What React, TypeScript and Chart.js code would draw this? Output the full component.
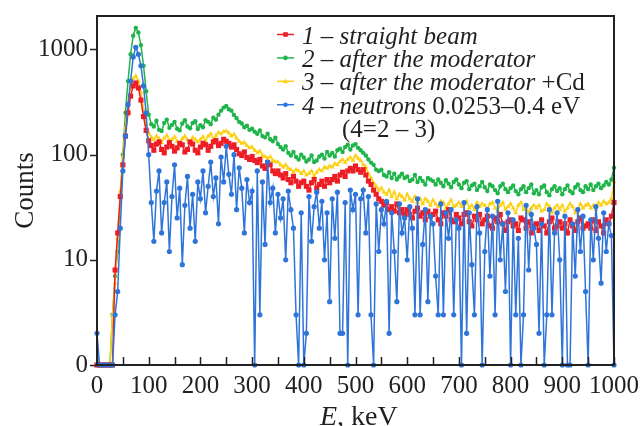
import React, { useEffect, useRef } from "react";
import { Chart, registerables } from "chart.js";

Chart.register(...registerables);

const SERIF = '"Liberation Serif", "Times New Roman", Times, serif';
const TEXT_COLOR = "#231f20";
const RED = "#ee1c24";
const GREEN = "#1fb54a";
const YELLOW = "#fcd116";
const BLUE = "#2f74d9";

// channel width (keV) of the spectra, channels start at 0 keV
const CHANNEL_KEV = 5;

const xTickValues = [0, 100, 200, 300, 400, 500, 600, 700, 800, 900, 1000];
const xMinorTickValues = [0, 50, 100, 150, 200, 250, 300, 350, 400, 450, 500, 550, 600, 650, 700, 750, 800, 850, 900, 950, 1000];
const yTickValues = [1, 10, 100, 1000];
const yTickLabels = ["0", "10", "100", "1000"];

// 1 – straight beam
const straightBeam = [
  0, 0, 0, 0, 0, 0, 0, 8, 18, 40,
  80, 150, 250, 360, 450, 480, 430, 330, 230, 170,
  135, 122, 110, 126, 132, 112, 104, 118, 130, 120,
  108, 116, 128, 124, 106, 112, 132, 126, 110, 104,
  118, 128, 124, 110, 120, 132, 136, 122, 128, 140,
  134, 128, 118, 124, 112, 102, 98, 106, 94, 90,
  96, 88, 84, 90, 78, 74, 84, 80, 70, 66,
  70, 64, 60, 66, 58, 54, 62, 56, 50, 54,
  56, 50, 46, 54, 58, 48, 52, 56, 50, 58,
  54, 58, 62, 56, 64, 68, 62, 70, 74, 70,
  78, 72, 68, 72, 64, 56, 52, 46, 42, 38,
  36, 33, 35, 30, 32, 29, 34, 28, 30, 27,
  30, 27, 25, 29, 31, 26, 28, 24, 29, 26,
  27, 29, 24, 22, 28, 26, 30, 24, 23, 27,
  25, 22, 27, 28, 23, 21, 26, 24, 27, 22,
  24, 26, 21, 20, 25, 23, 27, 22, 19, 23,
  24, 21, 22, 19, 25, 24, 20, 23, 18, 21,
  22, 19, 24, 21, 18, 23, 25, 20, 21, 23,
  20, 22, 18, 24, 21, 19, 23, 25, 20, 21,
  22, 20, 24, 19, 23, 21, 18, 24, 22, 26,
  35,
];

// 2 – after the moderator
const afterModerator = [
  0, 0, 0, 0, 0, 0, 3, 7, 12, 40,
  100, 250, 500, 900, 1350, 1600, 1450, 1100, 700, 400,
  240, 195, 185, 210, 172, 168, 200, 215, 180, 192,
  205, 176, 170, 198, 212, 185, 178, 200, 208, 175,
  190, 182, 212, 205, 195, 225, 215, 240, 262, 280,
  290, 270, 262, 238, 222, 205, 198, 182, 188, 172,
  176, 165, 158, 170, 150, 146, 158, 140, 134, 145,
  126, 118, 112, 120, 104, 98, 106, 95, 90, 100,
  94, 86, 90, 98, 85, 88, 96, 100, 92, 106,
  98, 104, 96, 110, 114, 106, 118, 124, 112, 122,
  126, 116, 110, 104, 98, 90, 84, 80, 72, 70,
  72, 64, 62, 68, 60, 66, 58, 62, 66, 60,
  62, 56, 58, 64, 55, 60, 56, 52, 60, 58,
  56, 52, 58, 54, 50, 57, 53, 49, 55, 58,
  52, 48, 54, 56, 47, 51, 53, 46, 50, 55,
  49, 45, 52, 50, 46, 43, 50, 53, 47, 44,
  48, 51, 45, 42, 47, 50, 44, 48, 52, 43,
  46, 42, 49, 51, 44, 41, 47, 50, 45, 48,
  42, 47, 51, 45, 43, 49, 52, 46, 44, 50,
  47, 52, 46, 50, 53, 48, 51, 55, 52, 58,
  75,
];

// 3 – after the moderator + Cd
const afterModeratorCd = [
  0, 0, 0, 0, 0, 0, 3, 6, 16, 45,
  95, 180, 300, 430, 530, 560, 500, 390, 270, 195,
  160, 146, 138, 150, 142, 130, 144, 152, 136, 140,
  148, 134, 128, 142, 150, 138, 130, 145, 140, 132,
  140, 148, 134, 150, 158, 140, 152, 162, 158, 166,
  168, 160, 150, 156, 144, 134, 128, 130, 122, 116,
  118, 110, 104, 108, 98, 96, 92, 96, 88, 86,
  85, 80, 76, 80, 74, 72, 68, 72, 70, 66,
  70, 64, 66, 70, 62, 68, 72, 70, 76, 74,
  78, 76, 82, 80, 86, 90, 84, 90, 94, 88,
  98, 92, 88, 80, 76, 66, 60, 54, 50, 46,
  48, 44, 42, 46, 40, 44, 38, 42, 40, 37,
  42, 38, 36, 40, 35, 38, 34, 38, 36, 33,
  37, 34, 32, 36, 35, 31, 34, 37, 32, 33,
  35, 32, 34, 36, 31, 33, 30, 35, 32, 34,
  33, 30, 34, 35, 31, 29, 33, 35, 30, 32,
  34, 31, 28, 33, 35, 30, 32, 28, 31, 33,
  31, 33, 29, 30, 34, 32, 28, 31, 33, 30,
  33, 29, 31, 34, 32, 28, 30, 34, 31, 33,
  34, 31, 33, 30, 35, 33, 36, 34, 35, 38,
  55,
];

// 4 – neutrons 0.0253–0.4 eV (4 = 2 – 3)
const thermalNeutrons = [
  2, 0, 0, 0, 0, 0, 0, 3, 5, 20,
  70, 150, 300, 500, 850, 1050, 900, 700, 450, 250,
  100, 35, 15, 45, 70, 18, 35, 55, 12, 40,
  80, 25, 48, 9, 33, 62, 20, 42, 15, 55,
  38, 70, 28, 50, 85, 40, 60, 22, 95, 55,
  120, 65, 42, 100, 30, 75, 48, 18, 58, 35,
  45, 0, 70, 3, 55, 14, 85, 35, 48, 18,
  42, 25, 38, 10, 45, 30, 20, 3, 0, 28,
  0, 2, 40, 15, 32, 44, 20, 36, 10, 28,
  4, 38, 16, 44, 2, 2, 35, 0, 46, 30,
  42, 3, 38, 46, 18, 40, 3, 0, 34, 12,
  30, 22, 36, 2, 28, 12, 4, 34, 18, 25,
  10, 32, 20, 3, 38, 3, 14, 30, 4, 26,
  22, 7, 3, 34, 3, 28, 16, 30, 3, 24,
  20, 0, 35, 2, 28, 9, 3, 32, 18, 0,
  12, 30, 7, 26, 3, 36, 10, 22, 5, 28,
  0, 24, 3, 16, 0, 3, 33, 8, 27, 20,
  14, 2, 22, 0, 3, 30, 3, 18, 28, 10,
  0, 26, 0, 0, 22, 7, 30, 12, 26, 5,
  0, 24, 10, 32, 16, 6, 28, 12, 22, 17,
  0,
];

type Part = { t: string; italic: boolean };
type Row = { color: string | null; style: string; parts: Part[]; indent?: number };

const legendRows: Row[] = [
  { color: RED, style: "rect", parts: [{ t: "1 – straight beam", italic: true }] },
  { color: GREEN, style: "circle", parts: [{ t: "2 – after the moderator", italic: true }] },
  { color: YELLOW, style: "triangle", parts: [{ t: "3 – after the moderator", italic: true }, { t: " +Cd", italic: false }] },
  { color: BLUE, style: "circle", parts: [{ t: "4 – neutrons", italic: true }, { t: " 0.0253–0.4 eV", italic: false }] },
  { color: null, style: "none", parts: [{ t: "(4=2 – 3)", italic: false }], indent: 40 },
];

// zero counts sit on the bottom line of the log axis (labelled "0")
const toPoints = (arr: number[]) => arr.map((v, i) => ({ x: i * CHANNEL_KEV, y: Math.max(v, 1) }));

const drawMarker = (ctx: CanvasRenderingContext2D, style: string, x: number, y: number, r: number) => {
  ctx.beginPath();
  if (style === "rect") {
    ctx.rect(x - r, y - r, 2 * r, 2 * r);
  } else if (style === "triangle") {
    ctx.moveTo(x, y - r * 1.2);
    ctx.lineTo(x + r * 1.1, y + r * 0.8);
    ctx.lineTo(x - r * 1.1, y + r * 0.8);
    ctx.closePath();
  } else {
    ctx.arc(x, y, r, 0, Math.PI * 2);
  }
  ctx.fill();
};

const decorPlugin = {
  id: "decor",
  afterDraw(chart: any) {
    const { ctx, chartArea: a, scales } = chart;
    const xs = scales.x;
    const ys = scales.y;
    ctx.save();
    // frame
    ctx.strokeStyle = "#222";
    ctx.lineWidth = 2;
    ctx.strokeRect(a.left, a.top, a.right - a.left, a.bottom - a.top);
    // tick marks
    ctx.lineWidth = 1.5;
    ctx.beginPath();
    for (const v of xMinorTickValues) {
      const px = Math.round(xs.getPixelForValue(v)) + 0.5;
      ctx.moveTo(px, a.bottom);
      ctx.lineTo(px, a.bottom - 8);
    }
    for (const v of yTickValues) {
      const py = Math.round(ys.getPixelForValue(v)) + 0.5;
      ctx.moveTo(a.left, py);
      ctx.lineTo(a.left - 7, py);
    }
    ctx.stroke();

    // legend
    const fs = 25;
    const textX = 302;
    ctx.fillStyle = TEXT_COLOR;
    ctx.textBaseline = "alphabetic";
    ctx.textAlign = "left";
    legendRows.forEach((row, i) => {
      const base = 43.5 + i * 23.4;
      let x = textX + (row.indent || 0);
      if (row.color) {
        const my = base - 9;
        ctx.strokeStyle = row.color;
        ctx.fillStyle = row.color;
        ctx.lineWidth = 1.5;
        ctx.beginPath();
        ctx.moveTo(277, my);
        ctx.lineTo(294, my);
        ctx.stroke();
        drawMarker(ctx, row.style, 285.5, my, 2.3);
      }
      ctx.fillStyle = TEXT_COLOR;
      for (const p of row.parts) {
        ctx.font = `${p.italic ? "italic " : ""}${fs}px ${SERIF}`;
        ctx.fillText(p.t, x, base);
        x += ctx.measureText(p.t).width;
      }
    });

    // axis titles
    ctx.fillStyle = TEXT_COLOR;
    ctx.font = `27px ${SERIF}`;
    ctx.save();
    ctx.translate(33, (a.top + a.bottom) / 2);
    ctx.rotate(-Math.PI / 2);
    ctx.textAlign = "center";
    ctx.fillText("Counts", 0, 0);
    ctx.restore();

    let tx = 320;
    ctx.textAlign = "left";
    ctx.font = `italic 28px ${SERIF}`;
    ctx.fillText("E", tx, 425);
    tx += ctx.measureText("E").width;
    ctx.font = `28px ${SERIF}`;
    ctx.fillText(", keV", tx, 425);
    ctx.restore();
  },
};

const zeroPad = (s: any) => {
  s.paddingTop = 0;
  s.paddingBottom = 0;
  s.paddingLeft = 0;
  s.paddingRight = 0;
};

export default function App() {
  const canvasRef = useRef<HTMLCanvasElement | null>(null);

  useEffect(() => {
    const canvas = canvasRef.current;
    if (!canvas) return;
    const mk = (label: string, data: number[], color: string, style: string, radius: number, order: number) => ({
      label,
      data: toPoints(data),
      borderColor: color,
      backgroundColor: color,
      borderWidth: 1.5,
      pointStyle: style,
      pointRadius: radius,
      pointBorderWidth: 0,
      pointBackgroundColor: color,
      tension: 0,
      clip: false,
      order,
    });
    const chart = new Chart(canvas, {
      type: "line",
      data: {
        datasets: [
          mk("4 – neutrons 0.0253–0.4 eV (4=2–3)", thermalNeutrons, BLUE, "circle", 2.6, 0),
          mk("1 – straight beam", straightBeam, RED, "rect", 3.6, 1),
          mk("3 – after the moderator +Cd", afterModeratorCd, YELLOW, "triangle", 2.8, 2),
          mk("2 – after the moderator", afterModerator, GREEN, "circle", 2.2, 3),
        ] as any,
      },
      options: {
        animation: false,
        responsive: false,
        devicePixelRatio: 1,
        layout: { padding: { left: 0, right: 28, top: 16, bottom: 0 } },
        plugins: { legend: { display: false }, tooltip: { enabled: false } },
        scales: {
          x: {
            type: "linear",
            min: 0,
            max: 1000,
            afterBuildTicks: (s: any) => {
              s.ticks = xTickValues.map((v) => ({ value: v }));
            },
            afterFit: (s: any) => {
              s.height = 61;
              zeroPad(s);
            },
            ticks: {
              color: TEXT_COLOR,
              font: { family: SERIF, size: 25 },
              padding: 6,
              maxRotation: 0,
              autoSkip: false,
              callback: (v: any) => String(v),
            },
            grid: { display: false, drawTicks: false },
            border: { display: false },
          },
          y: {
            type: "logarithmic",
            min: 1,
            max: 2080,
            afterBuildTicks: (s: any) => {
              s.ticks = yTickValues.map((v) => ({ value: v }));
            },
            afterFit: (s: any) => {
              s.width = 97;
              zeroPad(s);
            },
            ticks: {
              color: TEXT_COLOR,
              font: { family: SERIF, size: 25 },
              padding: 9,
              autoSkip: false,
              callback: (v: any) => {
                const idx = yTickValues.indexOf(Number(v));
                return idx >= 0 ? yTickLabels[idx] : "";
              },
            },
            grid: { display: false, drawTicks: false },
            border: { display: false },
          },
        },
      } as any,
      plugins: [decorPlugin as any],
    });
    return () => chart.destroy();
  }, []);

  return (
    <div style={{ position: "absolute", left: 0, top: 0, width: 642, height: 426, background: "#fff" }}>
      <canvas ref={canvasRef} width={642} height={426} style={{ display: "block" }} />
    </div>
  );
}
